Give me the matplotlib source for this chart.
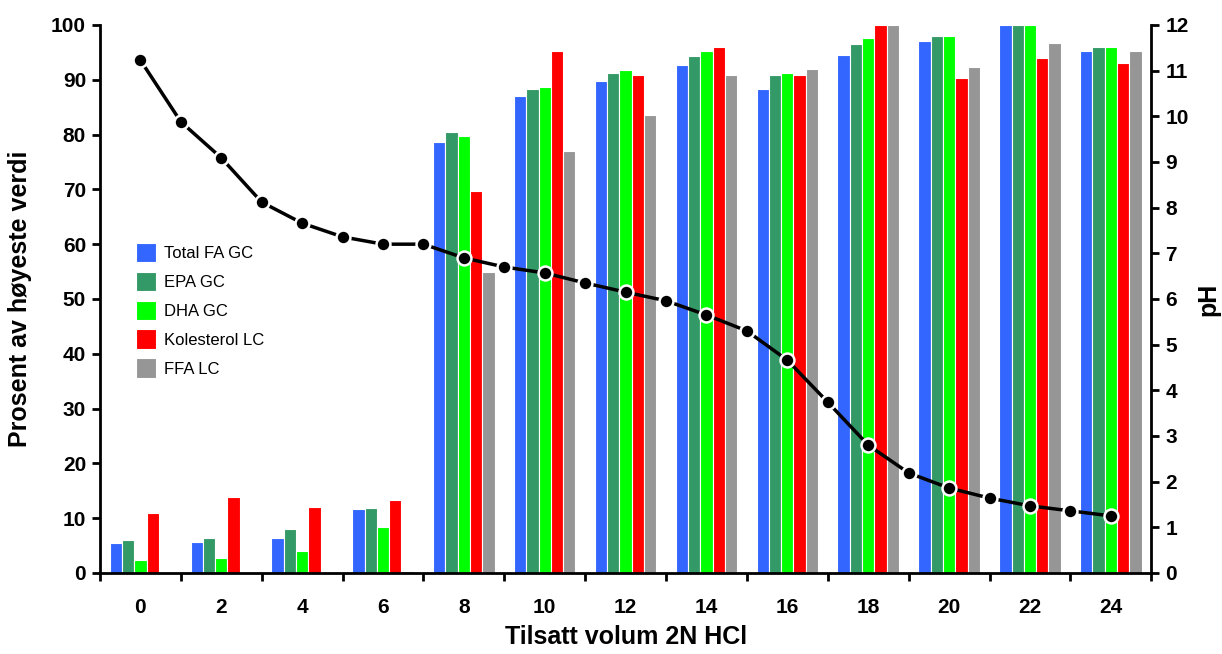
import matplotlib.pyplot as plt
import numpy as np

plt.rcParams['font.family'] = ['Liberation Sans', 'DejaVu Sans']

# volumes (ml 2N HCl) for the bar groups
volumes = [0, 2, 4, 6, 8, 10, 12, 14, 16, 18, 20, 22, 24]

total_fa = [5.5, 5.7, 6.4, 11.6, 78.6, 87.1, 89.7, 92.7, 88.4, 94.6, 97.0, 100.0, 95.3]
epa      = [6.0, 6.4, 8.0, 11.9, 80.5, 88.4, 91.3, 94.3, 90.8, 96.6, 98.0, 100.0, 95.9]
dha      = [2.4, 2.8, 4.0, 8.4, 79.8, 88.7, 91.7, 95.3, 91.3, 97.6, 98.0, 100.0, 95.9]
kolest   = [11.0, 13.9, 12.0, 13.3, 69.7, 95.3, 90.8, 96.0, 90.8, 100.0, 90.4, 94.0, 93.0]
ffa      = [0.0, 0.0, 0.0, 0.4, 55.0, 77.0, 83.5, 90.8, 92.0, 100.0, 92.4, 96.7, 95.3]

# pH measured at every ml
ph_vol = list(range(0, 25))
ph = [11.23, 9.88, 9.09, 8.12, 7.66, 7.36, 7.20, 7.20, 6.90, 6.70, 6.57, 6.35, 6.15,
      5.96, 5.65, 5.30, 4.66, 3.74, 2.80, 2.19, 1.86, 1.64, 1.47, 1.36, 1.25]

series = [total_fa, epa, dha, kolest, ffa]
names = ['Total FA GC', 'EPA GC', 'DHA GC', 'Kolesterol LC', 'FFA LC']
colors = ['#3366FF', '#339966', '#00FF00', '#FF0000', '#969696']

fig = plt.figure(figsize=(12.22, 6.54), dpi=100)
ax = fig.add_axes([0.0818, 0.1239, 0.8603, 0.8379])

x = np.arange(len(volumes))
w = 0.152
for i, (vals, nm, c) in enumerate(zip(series, names, colors)):
    ax.bar(x + (i - 2) * w, vals, w, color=c, edgecolor='white', linewidth=0.8, label=nm)

ax.set_xlim(-0.5, len(volumes) - 0.5)
ax.set_ylim(0, 100)
ax.set_yticks(range(0, 101, 10))
ax.set_xticks(x)
ax.set_xticklabels([str(v) for v in volumes])
ax.set_xticks(np.arange(-0.5, len(volumes), 1), minor=True)
ax.tick_params(axis='x', which='major', length=0, pad=18, labelsize=15)
ax.tick_params(axis='x', which='minor', length=6, width=2, direction='out')
ax.tick_params(axis='y', length=6, width=2, direction='out', labelsize=15, pad=4)
for lab in ax.get_xticklabels() + ax.get_yticklabels():
    lab.set_fontweight('bold')
for s in ['left', 'bottom']:
    ax.spines[s].set_linewidth(2)
ax.spines['top'].set_visible(False)
ax.spines['right'].set_visible(False)

ax.set_xlabel('Tilsatt volum 2N HCl', fontsize=18, fontweight='bold', labelpad=6)
ax.set_ylabel('Prosent av høyeste verdi', fontsize=18, fontweight='bold', labelpad=14)

leg = ax.legend(loc='upper left', bbox_to_anchor=(0.02, 0.63), frameon=False, fontsize=12,
                handlelength=1.2, handleheight=1.4, handletextpad=0.5, labelspacing=0.58)

ax2 = ax.twinx()
ax2.plot(np.array(ph_vol) / 2.0, ph, color='black', lw=2.5, marker='o', markersize=10,
         markerfacecolor='black', markeredgecolor='white', markeredgewidth=1.8, zorder=5)
ax2.set_ylim(0, 12)
ax2.set_yticks(range(0, 13))
ax2.tick_params(axis='y', length=6, width=2, direction='out', labelsize=15, pad=4)
for lab in ax2.get_yticklabels():
    lab.set_fontweight('bold')
ax2.spines['right'].set_linewidth(2)
ax2.spines['top'].set_visible(False)
ax2.spines['left'].set_visible(False)
ax2.spines['bottom'].set_visible(False)
ax2.set_ylabel('pH', fontsize=18, fontweight='bold', labelpad=6)

fig.savefig('out.png', dpi=100)
